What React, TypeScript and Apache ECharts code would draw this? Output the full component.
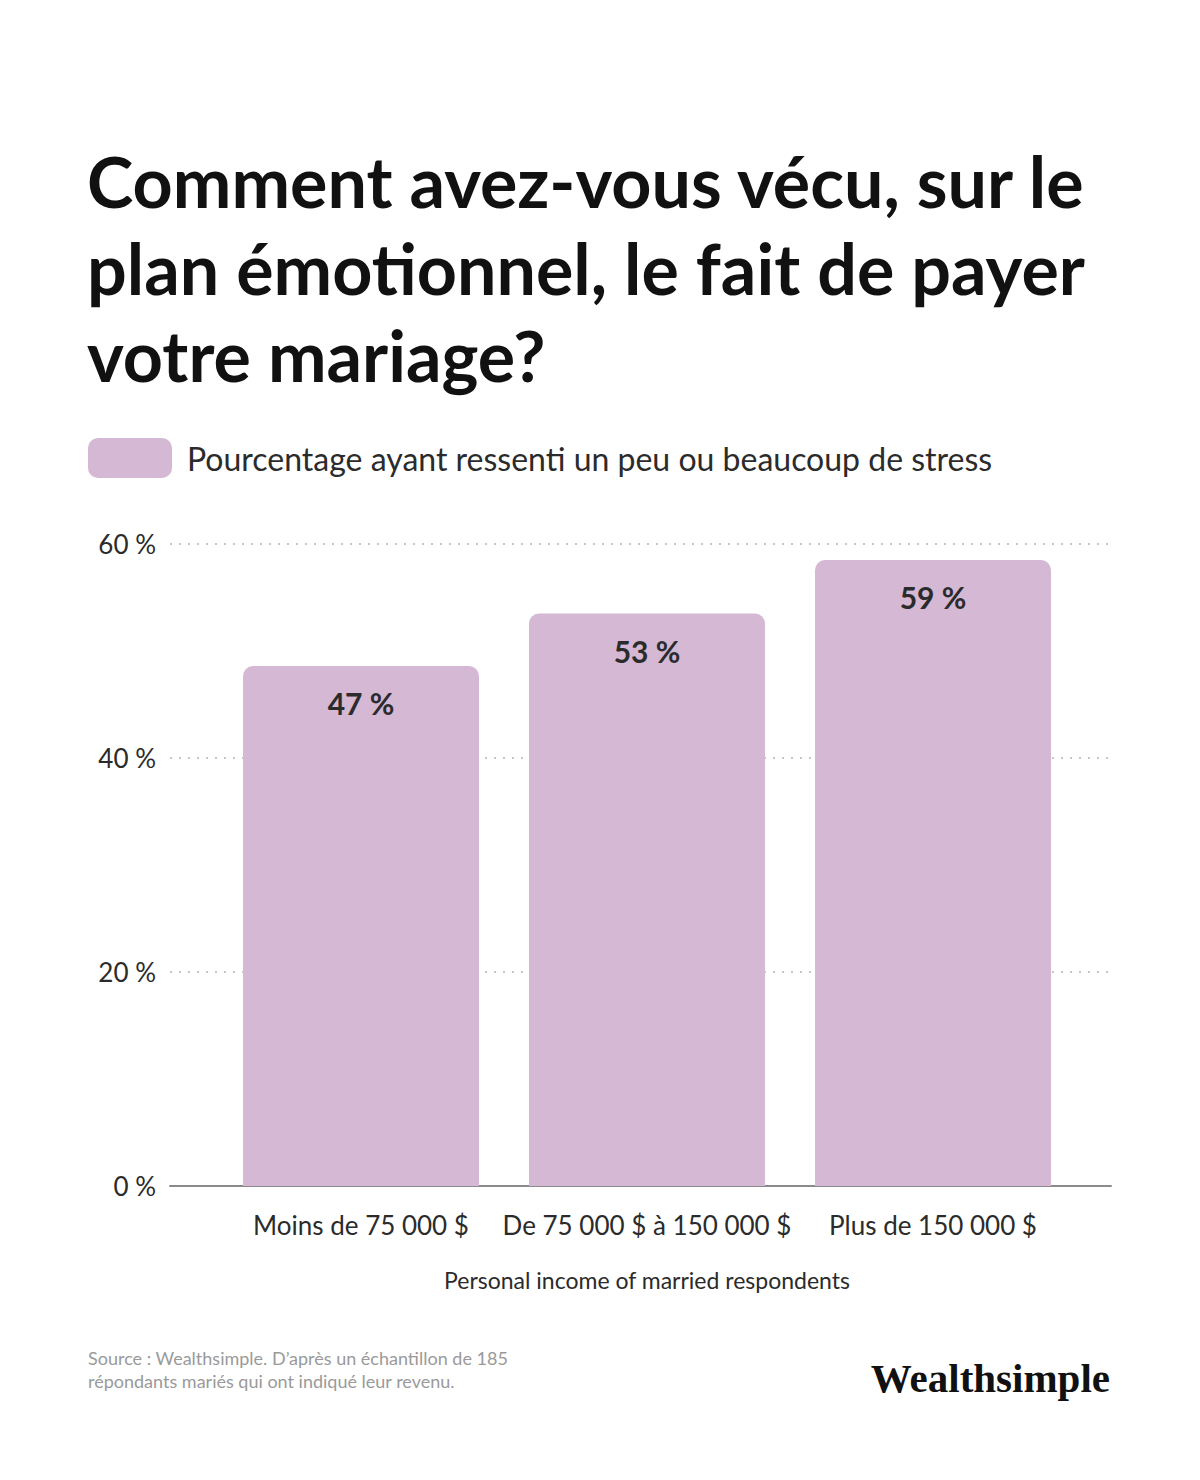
import { useEffect, useRef } from "react";
import * as echarts from "echarts";

const titleLines = [
  "Comment avez-vous vécu, sur le",
  "plan émotionnel, le fait de payer",
  "votre mariage?"
];
const seriesName = "Pourcentage ayant ressenti un peu ou beaucoup de stress";
const categories = ["Moins de 75 000 $", "De 75 000 $ à 150 000 $", "Plus de 150 000 $"];
// bar heights as drawn in the picture, and the printed labels
const barValues = [48.6, 53.5, 58.5];
const barLabels = ["47 %", "53 %", "59 %"];
const yTicks = [0, 20, 40, 60];
const xAxisName = "Personal income of married respondents";
const sourceLines = [
  "Source : Wealthsimple. D’après un échantillon de 185",
  "répondants mariés qui ont indiqué leur revenu."
];
const brand = "Wealthsimple";

const FONT = "Lato, 'Noto Sans', sans-serif";
const INK = "#2b2b2b";
const BAR = "#d4b8d4";

export default function App() {
  const ref = useRef<HTMLDivElement | null>(null);

  useEffect(() => {
    document.body.style.margin = "0";
    if (!ref.current) {
      return;
    }
    const chart = echarts.init(ref.current, null, { renderer: "svg" });
    const yMin = yTicks[0];
    const yMax = yTicks[yTicks.length - 1];

    chart.setOption({
      animation: false,
      backgroundColor: "#ffffff",
      textStyle: { fontFamily: FONT },
      title: {
        text: titleLines.join("\n"),
        left: 82,
        top: 132,
        textStyle: {
          fontFamily: FONT,
          fontWeight: "bold",
          fontSize: 70,
          lineHeight: 87,
          color: "#111111"
        }
      },
      legend: {
        left: 88,
        top: 438,
        padding: 0,
        icon: "roundRect",
        itemWidth: 84,
        itemHeight: 40,
        itemGap: 20,
        selectedMode: false,
        textStyle: { fontFamily: FONT, fontSize: 32, color: INK, padding: [0, 0, 0, 10] },
        data: [seriesName]
      },
      grid: [
        { left: 170, right: 89, top: 544, bottom: 294 },
        { left: 218, right: 124, top: 544, bottom: 294 }
      ],
      xAxis: [
        {
          gridIndex: 0,
          type: "category",
          data: [""],
          axisLine: { show: true, lineStyle: { color: "#8a8a8a", width: 2 } },
          axisTick: { show: false },
          axisLabel: { show: false }
        },
        {
          gridIndex: 1,
          type: "category",
          data: categories,
          axisLine: { show: false },
          axisTick: { show: false },
          axisLabel: {
            interval: 0,
            hideOverlap: false,
            margin: 26,
            fontFamily: FONT,
            fontSize: 26,
            color: INK
          },
          name: xAxisName,
          nameLocation: "middle",
          nameGap: 82,
          nameTextStyle: { fontFamily: FONT, fontSize: 23, color: INK }
        }
      ],
      yAxis: [
        {
          gridIndex: 0,
          type: "value",
          min: yMin,
          max: yMax,
          interval: 20,
          axisLine: { show: false },
          axisTick: { show: false },
          axisLabel: {
            margin: 14,
            fontFamily: FONT,
            fontSize: 26,
            color: INK,
            formatter: (v: number) => `${v} %`
          },
          splitLine: {
            show: true,
            lineStyle: { color: "#b5b5b5", width: 1.5, type: [2, 7] }
          }
        },
        {
          gridIndex: 1,
          type: "value",
          min: yMin,
          max: yMax,
          interval: 20,
          axisLine: { show: false },
          axisTick: { show: false },
          axisLabel: { show: false },
          splitLine: { show: false }
        }
      ],
      series: [
        {
          name: seriesName,
          type: "bar",
          xAxisIndex: 1,
          yAxisIndex: 1,
          data: barValues,
          barWidth: 236,
          itemStyle: { color: BAR, borderRadius: [10, 10, 0, 0] },
          label: {
            show: true,
            position: "insideTop",
            distance: 22,
            fontFamily: FONT,
            fontWeight: "bold",
            fontSize: 30,
            color: INK,
            formatter: (p: { dataIndex: number }) => barLabels[p.dataIndex]
          }
        }
      ],
      graphic: [
        ...sourceLines.map((line, i) => ({
          type: "text",
          left: 88,
          top: 1349 + i * 23,
          style: { text: line, font: `18px ${FONT}`, fill: "#9a9a9a" }
        })),
        {
          type: "text",
          right: 90,
          top: 1357,
          style: {
            text: brand,
            font: `bold 41px 'Liberation Serif', 'DejaVu Serif', serif`,
            fill: "#111111"
          }
        }
      ]
    });

    return () => {
      chart.dispose();
    };
  }, []);

  return <div ref={ref} style={{ width: 1200, height: 1480 }} />;
}
